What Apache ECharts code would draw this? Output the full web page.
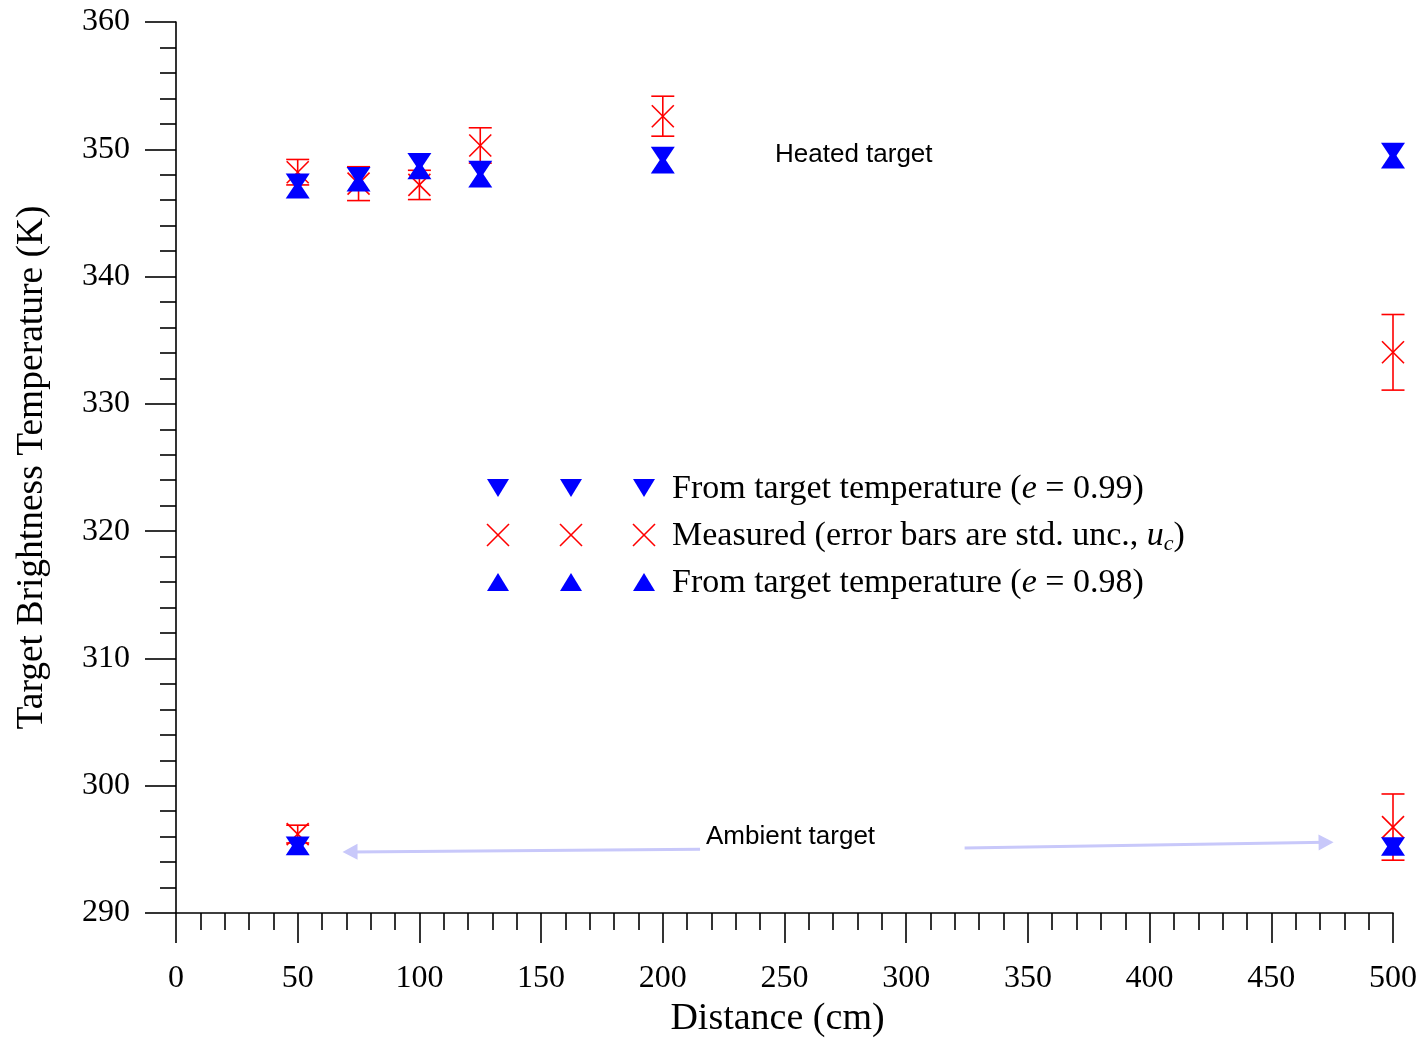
<!DOCTYPE html>
<html>
<head>
    <meta charset="UTF-8">
    <title>Target Brightness Temperature vs Distance</title>
    <script src="https://cdn.jsdelivr.net/npm/echarts@6/dist/echarts.min.js"></script>
    <style>
        html, body { margin: 0; padding: 0; background: #fff; }
        #chart { width: 1423px; height: 1039px; }
    </style>
</head>
<body>
<div id="chart"></div>
<script>
    // distances (cm); first six heated target, last two ambient target
    var distances = [50, 75, 100, 125, 200, 500, 50, 500];
    var tempE099 = [347.4, 347.9, 349.0, 348.4, 349.5, 349.8, 295.3, 295.25];
    var tempE098 = [346.85, 347.4, 348.35, 347.7, 348.8, 349.2, 295.25, 295.2];
    var measured = [348.2, 347.3, 347.2, 350.3, 352.6, 334.05, 296.2, 296.75];
    var stdUnc = [1.0, 1.33, 1.15, 1.39, 1.57, 2.97, 0.7, 2.6];

    var xTicks = [0, 50, 100, 150, 200, 250, 300, 350, 400, 450, 500];
    var yTicks = [290, 300, 310, 320, 330, 340, 350, 360];

    // arrows for the "Ambient target" note: [fromX, fromY, toX, toY]
    var arrowLeft = [215.3, 295.0, 71.5, 294.8];
    var arrowRight = [324.0, 295.1, 472.5, 295.55];

    var serif = '"Liberation Serif", "Times New Roman", serif';
    var sans = '"Liberation Sans", Arial, sans-serif';
    var BLUE = '#0000ff', RED = '#ff0000', ARROW = '#c8c8fa';

    var chart = echarts.init(document.getElementById('chart'));

    function renderMeasured(params, api) {
        var x = api.value(0), y = api.value(1), u = api.value(2);
        var c = api.coord([x, y]);
        var top = api.coord([x, y + u]);
        var bot = api.coord([x, y - u]);
        var cap = 11.5, arm = 11;
        var st = { stroke: RED, lineWidth: 1.6, fill: null };
        return {
            type: 'group',
            children: [
                { type: 'line', shape: { x1: c[0], y1: top[1], x2: c[0], y2: bot[1] }, style: st },
                { type: 'line', shape: { x1: c[0] - cap, y1: top[1], x2: c[0] + cap, y2: top[1] }, style: st },
                { type: 'line', shape: { x1: c[0] - cap, y1: bot[1], x2: c[0] + cap, y2: bot[1] }, style: st },
                { type: 'line', shape: { x1: c[0] - arm, y1: c[1] - arm, x2: c[0] + arm, y2: c[1] + arm }, style: st },
                { type: 'line', shape: { x1: c[0] - arm, y1: c[1] + arm, x2: c[0] + arm, y2: c[1] - arm }, style: st }
            ]
        };
    }

    // legend drawn as graphic rows (three sample symbols each, like the original)
    function triPoints(cx, cy, w, h, down) {
        if (down) return [[cx - w / 2, cy - h / 2], [cx + w / 2, cy - h / 2], [cx, cy + h / 2]];
        return [[cx - w / 2, cy + h / 2], [cx + w / 2, cy + h / 2], [cx, cy - h / 2]];
    }
    var legendXs = [498, 571, 644];
    var legendYs = [488, 535, 582];
    var legendEls = [];
    legendXs.forEach(function (lx) {
        legendEls.push({ type: 'polygon', shape: { points: triPoints(lx, legendYs[0], 22, 18, true) }, style: { fill: BLUE } });
        legendEls.push({ type: 'polyline', shape: { points: [[lx - 11, legendYs[1] - 11], [lx + 11, legendYs[1] + 11]] }, style: { stroke: RED, lineWidth: 1.6 } });
        legendEls.push({ type: 'polyline', shape: { points: [[lx - 11, legendYs[1] + 11], [lx + 11, legendYs[1] - 11]] }, style: { stroke: RED, lineWidth: 1.6 } });
        legendEls.push({ type: 'polygon', shape: { points: triPoints(lx, legendYs[2], 22, 18, false) }, style: { fill: BLUE } });
    });
    var rich = {
        n: { fontFamily: serif, fontSize: 34, fill: '#000' },
        i: { fontFamily: serif, fontSize: 34, fontStyle: 'italic', fill: '#000' },
        s: { fontFamily: serif, fontSize: 22, fontStyle: 'italic', fill: '#000', padding: [17, 0, 0, 0] }
    };
    var legendTexts = [
        '{n|From target temperature (}{i|e}{n| = 0.99)}',
        '{n|Measured (error bars are std. unc., }{i|u}{s|c}{n|)}',
        '{n|From target temperature (}{i|e}{n| = 0.98)}'
    ];
    legendTexts.forEach(function (t, k) {
        legendEls.push({
            type: 'text', x: 672, y: legendYs[k] + 1,
            style: { text: t, rich: rich, verticalAlign: 'middle', align: 'left' }
        });
    });

    var option = {
        backgroundColor: '#fff',
        animation: false,
        grid: { left: 176, right: 30, top: 22, bottom: 126, outerBoundsMode: 'none', containLabel: false },
        xAxis: {
            type: 'value', min: 0, max: 500, interval: 50,
            name: 'Distance (cm)', nameLocation: 'middle', nameGap: 86,
            nameTextStyle: { fontFamily: serif, fontSize: 38, color: '#000', padding: [0, 14, 0, 0] },
            axisLine: { show: true, onZero: false, lineStyle: { color: '#000', width: 1.6 } },
            axisTick: { show: true, inside: false, length: 30, lineStyle: { color: '#000', width: 1.6 } },
            minorTick: { show: true, splitNumber: 5, length: 17, lineStyle: { color: '#000', width: 1.6 } },
            axisLabel: { margin: 50, fontFamily: serif, fontSize: 32, color: '#000',
                formatter: function (v) { return xTicks.indexOf(v) >= 0 ? String(v) : ''; } },
            splitLine: { show: false }
        },
        yAxis: {
            type: 'value', min: 290, max: 360, interval: 10,
            name: 'Target Brightness Temperature (K)', nameLocation: 'middle', nameGap: 125,
            nameTextStyle: { fontFamily: serif, fontSize: 37.5, color: '#000' },
            axisLine: { show: true, onZero: false, lineStyle: { color: '#000', width: 1.6 } },
            axisTick: { show: true, inside: false, length: 31, lineStyle: { color: '#000', width: 1.6 } },
            minorTick: { show: true, splitNumber: 5, length: 16, lineStyle: { color: '#000', width: 1.6 } },
            axisLabel: { margin: 46, fontFamily: serif, fontSize: 32, color: '#000',
                formatter: function (v) { return yTicks.indexOf(v) >= 0 ? String(v) : ''; } },
            splitLine: { show: false }
        },
        series: [
            {
                name: 'Measured (error bars are std. unc., uc)',
                type: 'custom',
                renderItem: renderMeasured,
                data: distances.map(function (d, i) { return [d, measured[i], stdUnc[i]]; }),
                z: 2
            },
            {
                name: 'From target temperature (e = 0.99)',
                type: 'scatter',
                symbol: 'triangle', symbolRotate: 180, symbolSize: [24, 18],
                itemStyle: { color: BLUE, opacity: 1 },
                data: distances.map(function (d, i) { return [d, tempE099[i]]; }),
                z: 3,
                markLine: {
                    silent: true, symbol: ['none', 'triangle'], symbolSize: [16, 15],
                    label: { show: false },
                    lineStyle: { color: ARROW, width: 3, type: 'solid' },
                    data: [
                        [{ coord: [arrowLeft[0], arrowLeft[1]] }, { coord: [arrowLeft[2], arrowLeft[3]] }],
                        [{ coord: [arrowRight[0], arrowRight[1]] }, { coord: [arrowRight[2], arrowRight[3]] }]
                    ]
                }
            },
            {
                name: 'From target temperature (e = 0.98)',
                type: 'scatter',
                symbol: 'triangle', symbolSize: [24, 18],
                itemStyle: { color: BLUE, opacity: 1 },
                data: distances.map(function (d, i) { return [d, tempE098[i]]; }),
                z: 3
            }
        ],
        graphic: [
            { type: 'text', x: 775, y: 155, style: { text: 'Heated target', fontFamily: sans, fontSize: 26, fill: '#000', verticalAlign: 'middle' } },
            { type: 'text', x: 706, y: 837, style: { text: 'Ambient target', fontFamily: sans, fontSize: 26, fill: '#000', verticalAlign: 'middle' } },
            { type: 'group', children: legendEls }
        ]
    };

    chart.setOption(option);
</script>
</body>
</html>
